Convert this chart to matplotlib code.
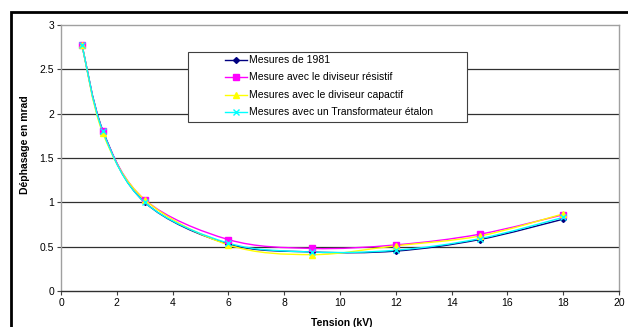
import numpy as np
import matplotlib
matplotlib.use("Agg")
from matplotlib import pyplot as plt
from matplotlib.path import Path
from matplotlib.patches import PathPatch, Rectangle
from matplotlib.lines import Line2D

tension = [0.75, 1.5, 3, 6, 9, 12, 15, 18]
mesures_1981 = [2.78, 1.81, 1.00, 0.53, 0.44, 0.45, 0.58, 0.81]
resistif = [2.78, 1.80, 1.03, 0.58, 0.48, 0.52, 0.64, 0.86]
capacitif = [2.78, 1.78, 1.03, 0.52, 0.41, 0.51, 0.62, 0.87]
transfo = [2.78, 1.80, 1.00, 0.54, 0.44, 0.46, 0.59, 0.83]

labels = ["Mesures de 1981", "Mesure avec le diviseur résistif",
          "Mesures avec le diviseur capactif",
          "Mesures avec un Transformateur étalon"]
colors = ["#000080", "#ff00ff", "#ffff00", "#00ffff"]
markers = ["D", "s", "^", "x"]
msizes = [3, 5, 5, 4]

plt.rcParams['font.family'] = ['Liberation Sans', 'DejaVu Sans']

fig = plt.figure(figsize=(6.28, 3.27), dpi=100)
W, H = 628, 327
ax = fig.add_axes([61 / W, 1 - 291 / H, (619 - 61) / W, (291 - 25) / H])


def smooth_path(xs, ys, t=1 / 6.0):
    # Excel-like smoothed line: cubic bezier through the points
    xs = np.asarray(xs, float)
    ys = np.asarray(ys, float)
    n = len(xs)
    verts = [(xs[0], ys[0])]
    codes = [Path.MOVETO]
    for i in range(n - 1):
        p0 = (xs[max(i - 1, 0)], ys[max(i - 1, 0)])
        p1 = (xs[i], ys[i])
        p2 = (xs[i + 1], ys[i + 1])
        p3 = (xs[min(i + 2, n - 1)], ys[min(i + 2, n - 1)])
        c1 = (p1[0] + (p2[0] - p0[0]) * t, p1[1] + (p2[1] - p0[1]) * t)
        c2 = (p2[0] - (p3[0] - p1[0]) * t, p2[1] - (p3[1] - p1[1]) * t)
        verts += [c1, c2, p2]
        codes += [Path.CURVE4] * 3
    return Path(verts, codes)


series = [mesures_1981, resistif, capacitif, transfo]
for ys, c, m, ms in zip(series, colors, markers, msizes):
    ax.add_patch(PathPatch(smooth_path(tension, ys), fc="none", ec=c, lw=1.0, zorder=3))
    ax.plot(tension, ys, ls="none", marker=m, color=c, ms=ms, mew=1.0, zorder=4)

ax.set_xlim(0, 20)
ax.set_ylim(0, 3)
ax.set_xticks(range(0, 21, 2))
ax.set_yticks([0, 0.5, 1, 1.5, 2, 2.5, 3])
ax.set_yticklabels(["0", "0.5", "1", "1.5", "2", "2.5", "3"])
ax.tick_params(labelsize=7.5, length=3, width=0.8, color="#404040", pad=2)
for y in [0.5, 1, 1.5, 2, 2.5]:
    ax.axhline(y, color="#303030", lw=0.9, zorder=1)
ax.spines['bottom'].set_color("#303030")
for s in ['top', 'right', 'left']:
    ax.spines[s].set_color("#a0a0a0")
for s in ax.spines.values():
    s.set_linewidth(1.0)

# legend box, drawn by hand in figure pixels (Excel layout)
px = lambda x, y: (x / W, 1 - y / H)
box_x0, box_y0, box_x1, box_y1 = 188, 52, 467, 122
fig.patches.append(Rectangle(px(box_x0, box_y1), (box_x1 - box_x0) / W, (box_y1 - box_y0) / H,
                             transform=fig.transFigure, fc="white", ec="#404040", lw=0.8, zorder=5))
for i, (lab, c, m, ms) in enumerate(zip(labels, colors, markers, msizes)):
    yy = 60 + 17.4 * i
    x0, y0 = px(225, yy)
    x1, _ = px(247, yy)
    xm, _ = px(236, yy)
    fig.lines.append(Line2D([x0, x1], [y0, y0], color=c, lw=1.0, transform=fig.transFigure, zorder=6))
    fig.lines.append(Line2D([xm], [y0], color=c, marker=m, ms=ms, mew=1.0, ls="none",
                            transform=fig.transFigure, zorder=6))
    fig.text(*px(249, yy), lab, ha="left", va="center", fontsize=7.5, zorder=7)

fig.text(25 / W, 1 - 145 / H, "Déphasage en mrad", rotation=90, ha="center", va="center",
         fontsize=7.5, fontweight="bold")
fig.text(342 / W, 1 - 323 / H, "Tension (kV)", ha="center", va="center",
         fontsize=7.5, fontweight="bold")

# outer chart border
fig.patches.append(Rectangle((11 / W, -0.1), 1.2, 1 - 12 / H + 0.1, transform=fig.transFigure,
                             fill=False, ec="black", lw=2.0))

fig.savefig("out.png", dpi=100)
